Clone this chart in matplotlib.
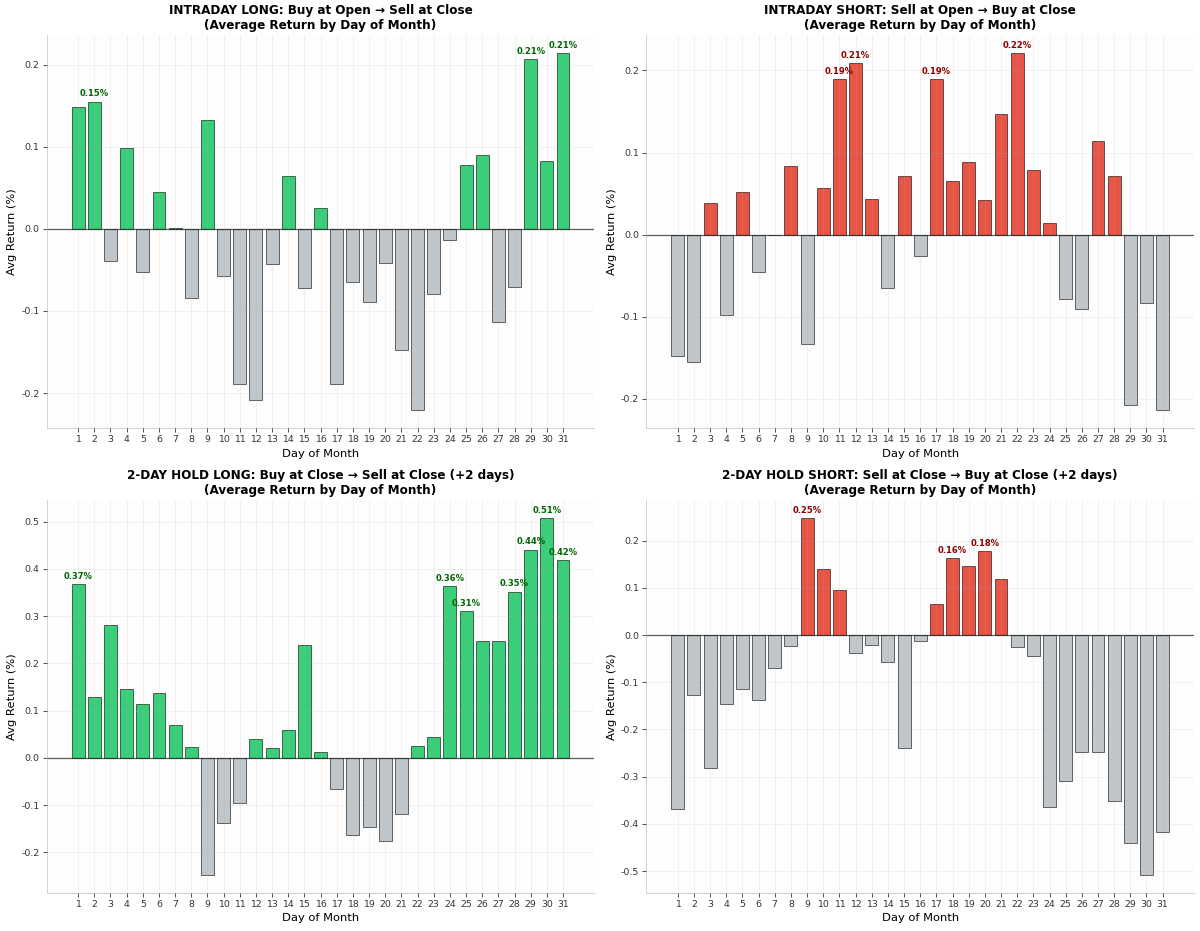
import matplotlib
matplotlib.use("Agg")
import matplotlib.pyplot as plt
from matplotlib.colors import to_rgba

plt.rcParams['font.family'] = ['DejaVu Sans']
plt.rcParams['axes.unicode_minus'] = False

days = list(range(1, 32))
day_labels = [str(d) for d in days]

intraday_long = [0.148, 0.155, -0.039, 0.098, -0.052, 0.045, 0.001, -0.084, 0.133, -0.057,
                 -0.189, -0.209, -0.043, 0.065, -0.072, 0.026, -0.189, -0.065, -0.089, -0.042,
                 -0.147, -0.221, -0.079, -0.014, 0.078, 0.090, -0.114, -0.071, 0.207, 0.083, 0.214]
intraday_short = [-0.148, -0.155, 0.039, -0.098, 0.052, -0.045, -0.001, 0.084, -0.133, 0.057,
                  0.189, 0.209, 0.043, -0.065, 0.072, -0.026, 0.189, 0.065, 0.089, 0.042,
                  0.147, 0.221, 0.079, 0.014, -0.078, -0.090, 0.114, 0.071, -0.207, -0.083, -0.214]
twoday_long = [0.368, 0.128, 0.282, 0.146, 0.115, 0.137, 0.070, 0.024, -0.248, -0.139,
               -0.095, 0.039, 0.021, 0.058, 0.239, 0.013, -0.065, -0.163, -0.147, -0.177,
               -0.118, 0.025, 0.045, 0.364, 0.310, 0.247, 0.247, 0.352, 0.441, 0.508, 0.418]
twoday_short = [-0.368, -0.128, -0.282, -0.146, -0.115, -0.137, -0.070, -0.024, 0.248, 0.139,
                0.095, -0.039, -0.021, -0.058, -0.239, -0.013, 0.065, 0.163, 0.147, 0.177,
                0.118, -0.025, -0.045, -0.364, -0.310, -0.247, -0.247, -0.352, -0.441, -0.508, -0.418]

titles = [
    "INTRADAY LONG: Buy at Open \u2192 Sell at Close\n(Average Return by Day of Month)",
    "INTRADAY SHORT: Sell at Open \u2192 Buy at Close\n(Average Return by Day of Month)",
    "2-DAY HOLD LONG: Buy at Close \u2192 Sell at Close (+2 days)\n(Average Return by Day of Month)",
    "2-DAY HOLD SHORT: Sell at Close \u2192 Buy at Close (+2 days)\n(Average Return by Day of Month)",
]
series = [intraday_long, intraday_short, twoday_long, twoday_short]
pos_colors = ['#2ecc71', '#e74c3c', '#2ecc71', '#e74c3c']
label_colors = ['darkgreen', 'darkred', 'darkgreen', 'darkred']
label_thresholds = [0.15, 0.15, 0.30, 0.15]
neg_color = '#bdc3c7'

fig, axes = plt.subplots(2, 2, figsize=(16, 931 / 75), dpi=75)
fig.subplots_adjust(left=0.039, right=0.995, top=0.962, bottom=0.041, wspace=0.095, hspace=0.183)

for ax, vals, title, pc, lc, thr in zip(axes.flat, series, titles, pos_colors, label_colors, label_thresholds):
    ax.set_facecolor('#fdfdfd')
    colors = [to_rgba(pc if v > 0 else neg_color, 0.95) for v in vals]
    ax.bar(days, vals, color=colors, edgecolor=to_rgba('black', 0.6), linewidth=0.9)
    ax.axhline(0, color='black', linewidth=1.2, alpha=0.7)
    span = max(vals) - min(vals)
    for d, v in zip(days, vals):
        if v >= thr:
            ax.text(d, v + 0.004 * span / 0.44, f"{v:.2f}%", ha='center', va='bottom',
                    fontsize=8, fontweight='bold', color=lc)
    ax.set_title(title, fontsize=11.5, fontweight='bold')
    ax.set_xlabel('Day of Month', fontsize=11)
    ax.set_ylabel('Avg Return (%)', fontsize=11)
    ax.set_xticks(days)
    ax.set_xticklabels(day_labels)
    ax.tick_params(labelsize=9, colors='#333333')
    ax.grid(True, alpha=0.2, linewidth=0.8)
    ax.set_axisbelow(False)
    for s in ['top', 'right']:
        ax.spines[s].set_visible(False)
    for s in ['left', 'bottom']:
        ax.spines[s].set_color('#cccccc')

fig.savefig('out.png', dpi=75)
